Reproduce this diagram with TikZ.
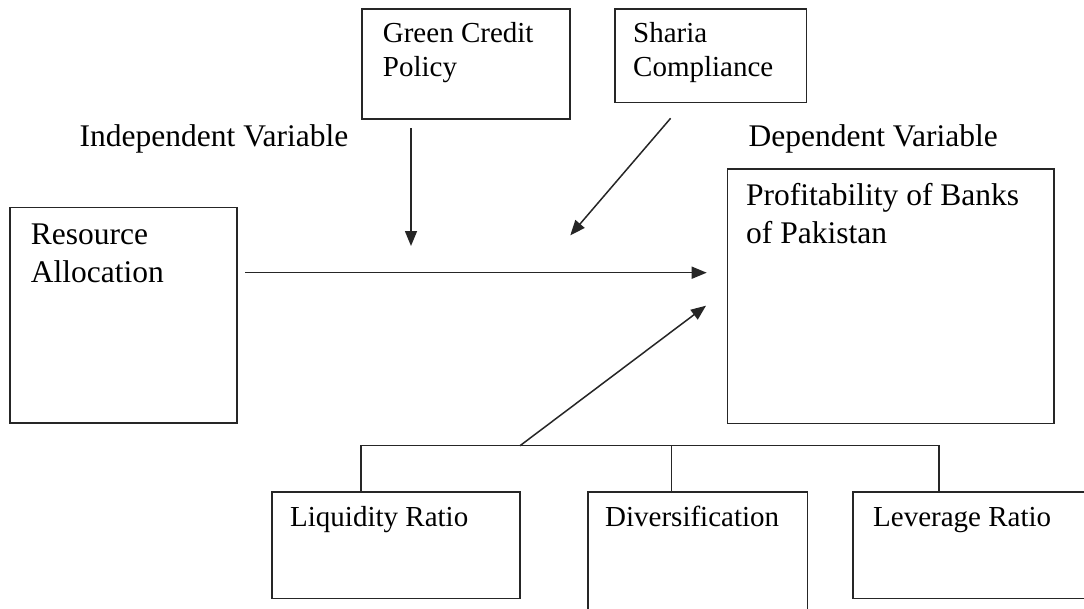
\documentclass[tikz,border=0pt]{standalone}
\usepackage{fontspec}
\setmainfont{Liberation Serif}
\usetikzlibrary{arrows.meta}
\tikzset{
  box/.style={draw=black!85, line width=1.6pt, rectangle, inner sep=0pt, anchor=north west},
  small/.style={font=\fontsize{29}{33.5}\selectfont, inner sep=0pt, align=left},
  large/.style={font=\fontsize{31.5}{38.5}\selectfont, inner sep=0pt, align=left},
  conn/.style={draw=black!85, line width=1.5pt},
  arr/.style={conn, -{Triangle[length=15pt,width=12pt]}}
}
\begin{document}
\begin{tikzpicture}[x=1pt,y=-1pt]
\useasboundingbox (0,0) rectangle (1084,608);
\clip (0,0) rectangle (1084,608);
\fill[white] (0,0) rectangle (1084,608);
% boxes
\node[box, minimum width=208.3pt, minimum height=110pt] (gcp) at (361,8.3) {};
\node[box, minimum width=191.7pt, minimum height=93.4pt] (sha) at (614,8.3) {};
\node[box, minimum width=226.7pt, minimum height=215.6pt] (res) at (9.3,206.7) {};
\node[box, minimum width=326.6pt, minimum height=254.4pt] (pro) at (726.7,168.3) {};
\node[box, minimum width=248pt, minimum height=106.7pt] (liq) at (271.3,491) {};
\node[box, minimum width=219.4pt, minimum height=130pt] (div) at (587.3,491) {};
\node[box, minimum width=240pt, minimum height=106.7pt] (lev) at (852.3,491) {};
% texts
\node[small, anchor=north west] (tgcp) at (382.7,19.25) {\strut Green Credit\\\strut Policy};
\node[small, anchor=north west] (tsha) at (633,19.25) {\strut Sharia\\\strut Compliance};
\node[large, anchor=base west] (tind) at (79.5,146) {Independent Variable};
\node[large, anchor=base west] (tdep) at (748.4,146) {Dependent Variable};
\node[large, anchor=north west] (tres) at (30.7,217.05) {\strut Resource\\\strut Allocation};
\node[large, anchor=north west] (tpro) at (746,178.05) {\strut Profitability of Banks\\\strut of Pakistan};
\node[small, anchor=base west] (tliq) at (290,526.7) {Liquidity Ratio};
\node[small, anchor=base west] (tdiv) at (605,526.2) {Diversification};
\node[small, anchor=base west] (tlev) at (873,526.7) {Leverage Ratio};
% connector coordinates
\coordinate (ga1) at (411,128);
\coordinate (ga2) at (411,246);
\coordinate (sa1) at (670.6,118.3);
\coordinate (sa2) at (570.3,235.3);
\coordinate (ha1) at (245,272.7);
\coordinate (ha2) at (706.7,272.7);
\coordinate (bl) at (361,445.7);
\coordinate (bm) at (671.5,445.7);
\coordinate (br) at (939,445.7);
\coordinate (ds) at (520,445.7);
\coordinate (de) at (706,305.7);
% connectors
\draw[arr] (ga1) -- (ga2);
\draw[arr] (sa1) -- (sa2);
\draw[arr] (ha1) -- (ha2);
\draw[conn] (liq.north -| bl) -- (bl) -- (br) -- (lev.north -| br);
\draw[conn] (bm) -- (div.north -| bm);
\draw[arr] (ds) -- (de);
\end{tikzpicture}
\end{document}
